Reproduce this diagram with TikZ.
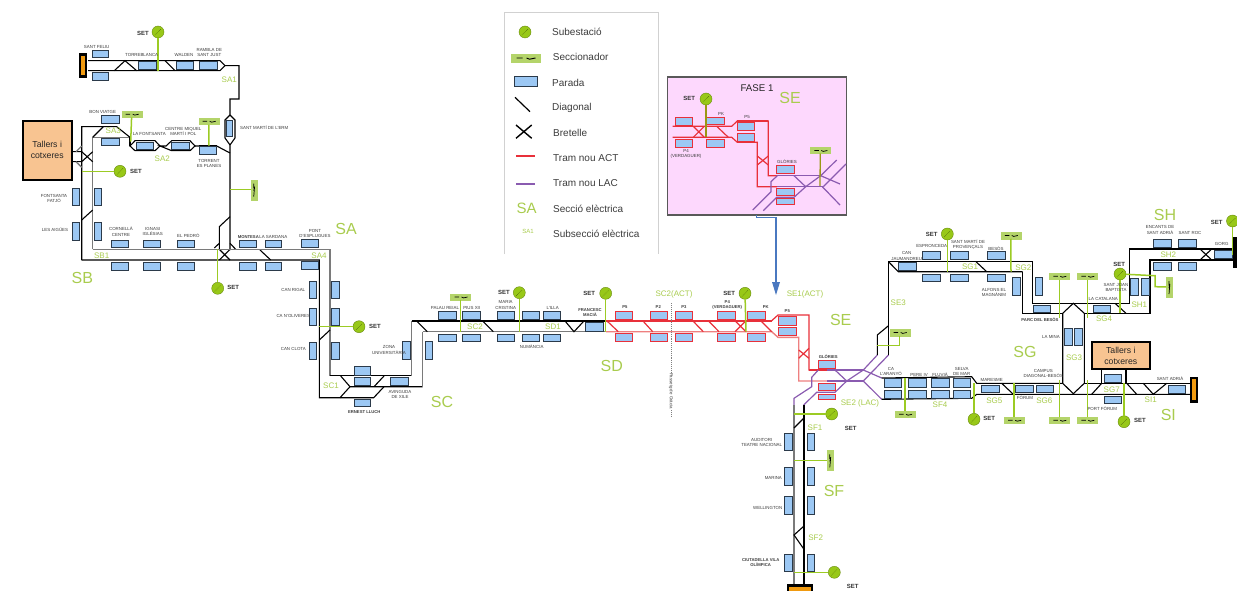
\documentclass[tikz,border=0pt]{standalone}
\usepackage{fontspec}
\setmainfont{Liberation Sans}
\definecolor{railgray}{HTML}{7A7A7A}
\definecolor{feedgreen}{HTML}{9CCB24}
\definecolor{secgreen}{HTML}{A9CC4E}
\definecolor{subgreen}{HTML}{98C818}
\definecolor{swgreen}{HTML}{B4D46A}
\definecolor{stopblue}{HTML}{9CC8F4}
\definecolor{stopedge}{HTML}{2B3A4A}
\definecolor{trred}{HTML}{E8303A}
\definecolor{trpale}{HTML}{EE8080}
\definecolor{trpurple}{HTML}{8A5BB0}
\definecolor{shopfill}{HTML}{F8C491}
\definecolor{inkgray}{HTML}{3C3C3C}
\definecolor{insetpink}{HTML}{FDD8FD}
\definecolor{arrowblue}{HTML}{4A78C0}
\definecolor{termorange}{HTML}{F09A10}
\newcount\nodeno
\newcommand{\nxt}{\global\advance\nodeno 1 \xdef\nid{n\the\nodeno}}
\tikzset{
  rail/.style={line width=1.1pt,black,line join=miter},
  grail/.style={line width=1.3pt,railgray},
  rred/.style={line width=1.2pt,trred},
  rredb/.style={line width=1.6pt,trred},
  rpale/.style={line width=1.4pt,trpale},
  rpur/.style={line width=1.2pt,trpurple},
  feed/.style={line width=1.5pt,feedgreen},
  stopbox/.style={draw=stopedge,line width=1pt,fill=stopblue,inner sep=0pt,outer sep=0pt},
  stopred/.style={draw=trred,line width=1pt,fill=stopblue,inner sep=0pt,outer sep=0pt},
  subst/.style={circle,draw=subgreen!70!black,line width=.4pt,fill=subgreen,minimum size=12pt,inner sep=0pt,outer sep=0pt},
  switchbox/.style={draw=swgreen,fill=swgreen,inner sep=0pt,outer sep=0pt,line width=.3pt},
  tiny/.style={font=\fontsize{4.4}{5.2}\selectfont,text=inkgray,align=center,inner sep=0pt},
  setl/.style={font=\bfseries\fontsize{6}{7}\selectfont,text=black!80,inner sep=0pt},
  secsmall/.style={font=\fontsize{8}{9}\selectfont,text=secgreen,inner sep=0pt},
  secbig/.style={font=\fontsize{16}{18}\selectfont,text=secgreen,inner sep=0pt},
  legendtx/.style={font=\fontsize{10}{12}\selectfont,text=inkgray,anchor=west,inner sep=0pt},
  shop/.style={draw=black,line width=2pt,fill=shopfill,inner sep=0pt,outer sep=0pt,align=center,font=\fontsize{8.7}{11}\selectfont,text=black!85}
}
% rectangle by corners
\newcommand{\Bx}[5]{\nxt\pgfmathsetmacro\bcx{(#2+#4)/2}\pgfmathsetmacro\bcy{(#3+#5)/2}\pgfmathsetmacro\bw{#4-#2}\pgfmathsetmacro\bh{#5-#3}%
  \node[#1,minimum width=\bw pt,minimum height=\bh pt] (\nid) at (\bcx,\bcy) {};}
\newcommand{\Term}[4]{\nxt\pgfmathsetmacro\bcx{(#1+#3)/2}\pgfmathsetmacro\bcy{(#2+#4)/2}\pgfmathsetmacro\bw{#3-#1}\pgfmathsetmacro\bh{#4-#2}%
  \node[draw=black,line width=2.4pt,fill=termorange,minimum width=\bw pt,minimum height=\bh pt,inner sep=0pt] (\nid) at (\bcx,\bcy) {};}
% substation: name,x,y,target x,target y
\newcommand{\Sb}[6][feed]{\node[subst] (#2) at (#3,#4) {};
  \draw[line width=.5pt,subgreen!45!black,densely dotted] ([shift={(-3,3)}]#2.center) -- ([shift={(3,-3)}]#2.center);
  \coordinate (#2-t) at (#5,#6); \draw[#1] (#2) -- (#2-t);}
% horizontal switch: name,cx,cy
\newcommand{\SwH}[3]{\node[switchbox,minimum width=20pt,minimum height=6.5pt] (#1) at (#2,#3) {};
  \draw[line width=.7pt,black] ([xshift=-6]#1.center) -- ([xshift=-1.5]#1.center) ([xshift=1]#1.center) -- ([shift={(3,.9)}]#1.center) -- ([xshift=7]#1.center);}
\newcommand{\SwV}[3]{\node[switchbox,minimum width=6pt,minimum height=20pt] (#1) at (#2,#3) {};
  \draw[line width=.7pt,black] ([yshift=6]#1.center) -- ([yshift=1.5]#1.center) ([yshift=-1]#1.center) -- ([shift={(.9,-3)}]#1.center) -- ([yshift=-7]#1.center);}
\newcommand{\Fd}[4]{\coordinate (#1-t) at (#2,#3); \draw[feed] (#1) #4 (#1-t);}
\newcommand{\Tx}[3]{\nxt\node[tiny] (\nid) at (#1,#2) {#3};}
\newcommand{\Tb}[3]{\nxt\node[tiny,font=\bfseries\fontsize{4.2}{5}\selectfont] (\nid) at (#1,#2) {#3};}
\newcommand{\SET}[2]{\nxt\node[setl] (\nid) at (#1,#2) {SET};}
\newcommand{\Ss}[3]{\nxt\node[secsmall] (\nid) at (#1,#2) {#3};}
\newcommand{\Sg}[3]{\nxt\node[secbig] (\nid) at (#1,#2) {#3};}
\begin{document}
\begin{tikzpicture}[x=1pt,y=-1pt]
\useasboundingbox (0,0) rectangle (1237,591);
\fill[white] (0,0) rectangle (1237,591);

%% ---------- legend ----------
\draw[black!18,line width=.7pt] (504,254) -- (504,12.3) -- (658,12.3) -- (658,254);
\Sb{lgs}{525}{32}{525}{32}
\node[switchbox,minimum width=29pt,minimum height=8.5pt] (lgsw) at (525.5,58) {};
\draw[line width=.9pt,black] ([xshift=-9]lgsw.center) -- ([xshift=-3]lgsw.center) ([xshift=1]lgsw.center) -- ([shift={(4,1.2)}]lgsw.center) -- ([xshift=10]lgsw.center);
\Bx{stopbox}{514.3}{77}{537.7}{86.5}
\draw[black,line width=1.2pt] (515,97.3) -- (530,111.7);
\draw[black,line width=1.4pt] (516,125) -- (531.7,138.3) (516,138.3) -- (531.7,125);
\draw[trred,line width=2.2pt] (516,155.7) -- (535,155.7);
\draw[trpurple,line width=2.2pt] (516,183.7) -- (535,183.7);
\node[legendtx] (lg1) at (552,32) {Subestació};
\node[legendtx] (lg2) at (552.7,57.3) {Seccionador};
\node[legendtx] (lg3) at (552,82.5) {Parada};
\node[legendtx] (lg4) at (552,107.7) {Diagonal};
\node[legendtx] (lg5) at (553,133) {Bretelle};
\node[legendtx] (lg6) at (553,158) {Tram nou ACT};
\node[legendtx] (lg7) at (553,183.3) {Tram nou LAC};
\node[legendtx] (lg8) at (553,208.5) {Secció elèctrica};
\node[legendtx] (lg9) at (553,233.7) {Subsecció elèctrica};
\node[secbig,font=\fontsize{15}{18}\selectfont] (lg10) at (526.7,208) {SA};
\node[secsmall,font=\fontsize{6}{7}\selectfont] (lg11) at (528,231.7) {SA1};

%% ---------- inset FASE 1 ----------
\draw[black!65,line width=1.2pt,fill=insetpink] (667.7,77) rectangle (846.7,215);
\node[font=\fontsize{9.7}{11}\selectfont,text=black!85,inner sep=0pt] (fase) at (757,88.3) {FASE 1};
\Sg{790}{98.3}{SE}
\draw[rred] (672.7,126.3) -- (731.7,126.3) -- (737.3,121) -- (768.3,121) -- (768.3,175.7) -- (777,175.7);
\draw[rredb] (737.3,121) -- (768.3,121);
\draw[rred] (672.7,137.3) -- (731.7,137.3) -- (737.3,142.3) -- (757.3,142.3) -- (757.3,186.7) -- (777,186.7);
\draw[rred] (693.3,126.3) -- (704.3,137.3) (693.3,137.3) -- (704.3,126.3) (716.7,126.3) -- (728.3,137.3);
\draw[rred] (757.3,165) -- (768.3,156) (757.3,156) -- (768.3,165);
\draw[rpur] (777,175.7) -- (820.7,175.7) (777,186.7) -- (823.3,186.7);
\draw[rpur] (752.7,210) -- (771,191.7) -- (771,181.7) -- (777.3,175.7);
\draw[rpur] (763.3,210.7) -- (776.7,197.3) -- (794,197.3) -- (805.7,186.7);
\draw[rpur] (794,175.7) -- (805.7,186.7) -- (820.7,175.7) -- (836.7,160);
\draw[rpur] (823.3,186.7) -- (846,164);
\draw[rpur] (820.7,175.7) -- (840,184) (822.3,186.7) -- (840,205);
\Bx{stopred}{675}{118}{692.3}{125.7}
\Bx{stopred}{706.7}{117.3}{724}{125}
\Bx{stopred}{675}{139.7}{692.3}{147.7}
\Bx{stopred}{706.7}{139.7}{724}{147.7}
\Bx{stopred}{737.3}{122.7}{754.3}{130.7}
\Bx{stopred}{737.3}{133.3}{754.3}{141.3}
\Bx{stopred}{776.7}{166}{794}{173.3}
\Bx{stopred}{776.7}{188.3}{794}{195.7}
\Bx{stopred}{776.7}{198.3}{794}{204}
\Sb[line width=1.3pt,olive!70!feedgreen]{ins}{706}{99}{706}{137.3}
\SET{689.3}{98.7}
\node[switchbox,minimum width=20pt,minimum height=6pt] (insw) at (820.3,150.5) {};
\draw[line width=.7pt,black] ([xshift=-6]insw.center) -- ([xshift=-1.5]insw.center) ([xshift=1]insw.center) -- ([shift={(3,.9)}]insw.center) -- ([xshift=7]insw.center);
\coordinate (insw-t) at (820,186); \draw[line width=1.3pt,olive!70!feedgreen] (insw) -- (insw-t);
\Tx{721}{114}{PK}
\Tx{747}{116.7}{P5}
\Tx{686}{154}{P4\\(VERDAGUER)}
\Tx{787}{162}{GLÒRIES}
% blue arrow
\coordinate (arA) at (756.7,215); \coordinate (arB) at (776,294);
\draw[arrowblue,line width=1.2pt] (arA) -- (756.7,217.3) -- (776,217.3) -- (776,283);
\fill[arrowblue] (772,282) -- (780,282) -- (776,295) -- cycle;

%% ---------- rails: SA / SB ----------
\draw[rail] (88,60.7) -- (220,60.7) -- (225,65.7) -- (239,65.7) -- (239,99) -- (230,99) -- (230,115) -- (235,120) -- (235,138) -- (230,145) -- (230,250);
\draw[rail] (88,70.7) -- (220,70.7) -- (225,65.7);
\draw[rail] (230,115) -- (225,120) -- (225,138) -- (230,145);
\draw[rail] (114.3,70.7) -- (125,60.7) -- (136.7,70.7) (165,60.7) -- (175,70.7);
\draw[rail] (81.7,260) -- (81.7,126.7) -- (116.7,126.7) -- (130,137.3);
\draw[grail] (92.7,249.3) -- (92.7,137.3) -- (129.3,137.3);
\draw[rail] (92.7,137.3) -- (103.3,126.7);
\draw[rail] (130,137.3) -- (130,146);
\draw[rail] (72.7,151.7) -- (81.7,151.7) -- (92.7,161.7) (72.7,161.7) -- (81.7,161.7) -- (92.7,151.7);
\draw[grail] (76,151.7) -- (81.7,146) (76,161.7) -- (81.7,167.3);
\draw[rail] (81.7,220) -- (92.7,210);
\draw[rail] (130,146) -- (135,140.7) -- (155,140.7) -- (160,146) -- (155,150.7) -- (135,150.7) -- cycle;
\draw[rail] (160,146) -- (166,146) -- (171.7,140.7) -- (190,140.7) -- (195,146) -- (190,150.7) -- (171.7,150.7) -- cycle;
\draw[rail] (195,146) -- (216.7,146) -- (230,153);
\draw[line width=1.6pt,black] (199,146) -- (216.7,146);
\draw[rail] (230,216.7) -- (219.3,226.7) -- (219.3,249.3);
\draw[rail] (230,243.3) -- (235.7,249.3);
\draw[rail] (219.3,249.3) -- (230,260) (219.3,260) -- (230,249.3);
\draw[rail] (260,250) -- (270.7,260);
\draw[rail] (214.3,248) -- (219.3,243.3);
\draw[grail] (92.7,249.3) -- (330,249.3) -- (330,375.7);
\draw[rail] (81.7,260) -- (319.3,260) -- (319.3,397.7) -- (340,397.7) -- (350,386.7) -- (422.7,386.7);
\draw[grail] (422.7,386.7) -- (422.7,331.7);
\draw[rail] (319.3,340) -- (330,330);
%% SC
\draw[rail] (330,375.7) -- (411.7,375.7);
\draw[grail] (411.7,375.7) -- (411.7,321);
\draw[rail] (411.7,321) -- (606,321);
\draw[grail] (422.7,331.7) -- (606,331.7);
\draw[rail] (340.7,376) -- (350,386.7) (340,397.7) -- (373.7,397.7) -- (384,386.7) (374,386.7) -- (384,376);
\draw[rail] (417.3,321.7) -- (427.3,331.7) (483.3,321.7) -- (493.3,331.7);
\draw[rail] (565,321) -- (574,331.7) -- (583.3,321.7);
%% SE red
\draw[rpale] (606,331.7) -- (771.7,331.7) -- (778,337.3) -- (798.7,337.3) -- (798.7,381) -- (827,381);
\draw[rredb] (606,320.7) -- (771.7,320.7);
\draw[rred] (771.7,320.7) -- (778,315) -- (809,315) -- (809,370) -- (827,370);
\draw[rredb] (809,370) -- (827,370);
\draw[rred] (606.7,320.7) -- (618.3,331.7) (642.7,320.7) -- (652.7,331.7) (692.7,320.7) -- (703.3,331.7) (708.3,320.7) -- (719,331.7) (735,331.7) -- (746,320.7) (735,320.7) -- (746,331.7) (760.7,320.7) -- (771.7,331.7);
\draw[rred] (798.7,358.3) -- (809,348.3) (798.7,350) -- (809,358.3);
%% SE purple
\draw[rpur] (827,370) -- (863.3,370) (827,381) -- (863.3,381);
\draw[rpur] (794,405) -- (794,398.3) -- (811.7,386.7) -- (811.7,377.3) -- (818.3,370);
\draw[rpur] (803.7,405) -- (816.7,392.3) -- (835,392.3) -- (846.7,381);
\draw[rpur] (835,370) -- (846.7,381) -- (863.3,370) -- (877.3,355);
\draw[rpur] (863.3,381) -- (888.5,355);
\draw[rpur] (863.3,370) -- (881.7,378);
\draw[rpur] (863.3,381) -- (881.7,399.3);
%% SG upper
\draw[rail] (877.3,355) -- (877.3,335) -- (888.5,325.7);
\draw[rail] (888.5,355) -- (888.5,261.7) -- (1032.7,261.7) -- (1032.7,303.3) -- (1129.3,303.3) -- (1129.3,249) -- (1233,249);
\draw[rail] (1022.7,271.7) -- (1022.7,313.3) -- (1062.7,313.3);
\draw[rail] (888.5,261.7) -- (898.3,271.7) -- (1022.7,271.7);
\draw[rail] (976,261.7) -- (986.7,271.7);
\draw[rail] (1084.3,313.3) -- (1150,313.3) -- (1150,260) -- (1233,260);
\draw[rail] (1200,249) -- (1211.7,260) (1200,260) -- (1211.7,249);
\draw[rail] (1062.7,313.3) -- (1073.3,303.3) -- (1084.3,313.3);
\draw[rail] (1115,303.3) -- (1126,313.3);
%% SG vertical
\draw[rail] (1062.7,313.3) -- (1062.7,383.3) -- (1073.3,393.7) -- (1084.3,383.3) -- (1084.3,313.3);
%% SG lower
\draw[rail] (881.7,378) -- (971.7,376.7) -- (976.7,383.3) -- (1062.7,383.3);
\draw[rail] (881.7,399.3) -- (971.7,398.3) -- (976.7,394.3) -- (1190,394.3);
\draw[rail] (1084.3,383.3) -- (1190,383.3);
\draw[rail] (1001.7,383.3) -- (1013.3,394.3) (1091.7,394.3) -- (1101.7,383.3) (1126.7,383.3) -- (1136.7,394.3) (1143.3,383.3) -- (1153.3,394.3) -- (1166.7,383.3);
\draw[rail] (1101.7,370) -- (1101.7,383.3) (1126,370) -- (1126,383.3);
%% SF
\draw[grail] (794,405) -- (794,584);
\draw[rail] (804,405) -- (804,584);
\draw[rail] (794,428) -- (804,418) (804,526) -- (794,535) -- (804,549.3);

%% ---------- terminals ----------
\Term{80}{54.5}{86}{76.5}
\Term{1191}{378}{1197}{401.5}
\draw[black,fill=black] (1233,237) rectangle (1237,267);
\draw[black,line width=2.4pt,fill=termorange] (788,585.5) rectangle (812,593);

%% ---------- shops ----------
\node[shop,minimum width=49pt,minimum height=59pt] (shopA) at (47.2,150.3) {Tallers i\\cotxeres};
\node[shop,minimum width=58pt,minimum height=27.5pt] (shopB) at (1120.8,355.5) {Tallers i\\cotxeres};

%% ---------- stops ----------
\foreach \a/\b/\c/\d in {92/51/108/58, 92/73/108/81, 138/62/156/70, 176/62/193/70, 199/62/217/70,
 226.7/121/232.7/137,
 101.7/116/119.3/124, 101.7/138.3/119.3/146,
 136/142.3/153.3/149.3, 171.7/142.3/189/149.3, 199/146.7/216.7/154.3,
 72/188.3/79.3/205.7, 94.3/188.3/101.7/205.7, 72/222.7/79.3/240, 94.3/222.7/101.7/240,
 111.7/240/128.3/247.3, 143.3/240/160.7/247.3, 177.3/240/194.7/247.3, 239.3/240/256.7/247.3, 265/240/281.7/247.3, 301/239.3/318.3/247.3,
 111.7/262.3/128.3/270, 143.3/262.3/160.7/270, 177.3/262.3/194.7/270, 239.3/262.3/256.7/270, 265/262.3/281.7/270, 301/261/318.3/269,
 309.3/281/316.7/298.3, 331.7/281/339.3/298.3, 309.3/308.3/316.7/325.7, 331.7/308.3/339.3/325.7, 309.3/342.3/316.7/359.3, 331.7/342.3/339.3/359.3,
 354/366.7/370.7/375, 354/377.7/370.7/385.7, 354/399.3/370.7/406.7, 390.7/377.7/408/385.7,
 402.7/341.7/410/359, 425/341.7/432.3/359,
 438.3/311.7/456/319.3, 462.7/311.7/480/319.3, 497.7/311.7/514.3/319.3, 522.3/311.7/539.3/319.3, 543.3/311.7/560.7/319.3,
 438.3/334/456/341.7, 462.7/334/480/341.7, 497.7/334/514.3/341.7, 522.3/334/539.3/341.7, 543.3/334/560.7/341.7,
 585/322/603/331,
 898.3/262.3/916/270, 922.7/251.7/940/259.3, 950.7/251.7/968.3/259.3, 987.3/251.7/1005/259.3, 922.7/274.3/940/281.7, 950.7/274.3/968.3/281.7, 987.3/274.3/1005/281.7,
 1012.3/277.7/1020/295.7, 1035/277.7/1042.7/295.7, 1033.3/305/1050/312.7, 1093.3/305/1110.7/312.7,
 1130.7/278.3/1138/295.7, 1141.7/278.3/1149/295.7, 1153.3/239.3/1171/247.3, 1178.3/239.3/1196/247.3, 1153.3/262.3/1171/270, 1178.3/262.3/1196/270, 1214/250/1232/258,
 1064/328.3/1072/345.7, 1074.3/328.3/1082.7/345.7,
 884/378/901.7/387, 908.3/378/926/387, 931.7/378/949/387, 953.3/378/970.7/387, 884/390/901.7/398, 908.3/390/926/398, 931.7/390/949/398, 953.3/390/970.7/398,
 981.7/385/999.3/392.7, 1015.7/385/1033.3/392.7, 1036/385/1053.3/392.7, 1104.3/374/1121.7/382, 1104.3/396/1121.7/403.7, 1168.3/385/1185/393.3,
 784.3/433/792.3/450.7, 807.3/433/814.7/450.7, 784.3/467.7/792.3/485, 807.3/467.7/814.7/485, 784.3/496.7/792.3/514, 807.3/496.7/814.7/514, 784.3/554/792.3/571, 807.3/554/814.7/571}
{\Bx{stopbox}{\a}{\b}{\c}{\d}}
\foreach \a/\b/\c/\d in {615/311/632.3/319, 650.3/311/667.7/319, 675.3/311/692/319, 717.3/311/735/319, 747.7/311/765.7/319,
 615/333.3/632.3/341.3, 650.3/333.3/667.7/341.3, 675.3/333.3/692/341.3, 717.3/333.3/735/341.3, 747.7/333.3/765.7/341.3,
 778.3/316.7/796/325, 778.3/327.3/796/335.7, 818.3/360.7/835.7/368, 818.3/383.3/835.7/390.7, 818.3/394/835.7/399.3}
{\Bx{stopred}{\a}{\b}{\c}{\d}}

%% dotted line
\coordinate (dotA) at (671,303.3); \coordinate (dotB) at (671,416.7);
\draw[black!50,line width=.9pt,densely dotted] (dotA) -- (671,372) (671,410) -- (dotB);
\node[tiny,rotate=-90] (limit) at (671,391) {Passeig de Gràcia};

%% ---------- switches with feeds ----------
\SwH{sw1}{131.7}{114.2} \Fd{sw1}{130.7}{141.7}{--}
\SwH{sw2}{208.7}{121.3} \Fd{sw2}{209}{145.7}{--}
\SwV{sw3}{253.7}{189.7} \Fd{sw3}{230}{189.7}{--}
\SwH{sw4}{460.5}{297} \Fd{sw4}{460.5}{331.7}{--}
\SwH{sw5}{899.7}{332.5} \coordinate (sw5-t) at (877.3,345.7); \draw[feed] (sw5) -- (899.7,345.7) -- (sw5-t);
\SwH{sw6}{1010.8}{235.5} \Fd{sw6}{1011}{271.7}{--}
\SwH{sw7}{905}{414.3} \Fd{sw7}{905}{378}{--}
\SwH{sw8}{1014.2}{420.3} \Fd{sw8}{1014.2}{383.3}{--}
\SwH{sw9}{1059.3}{420.3} \Fd{sw9}{1059.3}{380}{--}
\SwH{sw10}{1087.3}{420.3} \Fd{sw10}{1087.3}{380}{--}
\SwH{sw11}{1059.3}{276.3} \Fd{sw11}{1059.3}{318}{--}
\SwH{sw12}{1087.3}{276.3} \Fd{sw12}{1087.3}{318}{--}
\SwV{sw13}{1169}{287} 
\SwV{sw14}{829.8}{460.3} \Fd{sw14}{794}{460.3}{--}

%% ---------- substations ----------
\Sb{s1}{158}{32}{158}{70.7}   \SET{143}{33}
\Sb{s2}{120}{171.3}{81.7}{171.3} \SET{136}{171.3}
\Sb{s3}{217.7}{288.3}{217.7}{249.3} \SET{233.3}{287.3}
\Sb{s4}{359}{326.7}{319.3}{326.7} \SET{375}{326.7}
\Sb{s5}{519.3}{292.7}{519.3}{331.7} \SET{504}{292.7}
\Sb{s6}{605.7}{293.3}{605.7}{331.7} \SET{589.3}{293.3}
\Sb{s7}{745}{293.3}{746}{331.7} \SET{729.3}{293.3}
\Sb{s8}{831.7}{414}{794}{414} \SET{850.7}{428}
\Sb{s9}{834.3}{572.3}{794}{572.3} \SET{852.7}{586.7}
\Sb{s10}{947.3}{234}{947.3}{272} \SET{931.7}{234.3}
\Sb{s11}{974}{419.3}{974}{383} \SET{989.3}{418.3}
\Sb{s12}{1124}{421.7}{1124}{383.3} \SET{1140}{420.7}
\Sb{s13}{1120}{274}{1120}{313.3} \SET{1119.3}{264}
\coordinate (sw13-t) at (1155,286.7);
\draw[feed] (s13) -- (1155,275.7) -- (sw13-t) -- (sw13);
\Sb{s14}{1232.5}{221}{1232.5}{255} \SET{1216.7}{222.3}

%% ---------- section labels ----------
\Ss{229.3}{79.3}{SA1} \Ss{113.3}{131}{SA3} \Ss{162.3}{158.3}{SA2} \Ss{101.7}{255.7}{SB1} \Ss{319}{255.7}{SA4}
\Sg{346}{229}{SA} \Sg{82.3}{277.7}{SB} \Sg{442}{401.7}{SC} \Sg{611.7}{365.7}{SD} \Sg{840.7}{320}{SE} \Sg{834}{491}{SF}
\Sg{1025}{351.7}{SG} \Sg{1165}{215}{SH} \Sg{1168.3}{415}{SI}
\Ss{331}{386}{SC1} \Ss{475}{326.7}{SC2} \Ss{553}{326.7}{SD1}
\Ss{674}{294}{SC2(ACT)} \Ss{805}{294}{SE1(ACT)} \Ss{860}{403.3}{SE2 (LAC)}
\Ss{815}{427.7}{SF1} \Ss{815.7}{538}{SF2} \Ss{898.3}{302.7}{SE3} \Ss{940}{405}{SF4}
\Ss{970}{266.7}{SG1} \Ss{1023.3}{267.3}{SG2} \Ss{1074}{357.7}{SG3} \Ss{1104}{319}{SG4}
\Ss{994.3}{400.7}{SG5} \Ss{1044.3}{400.7}{SG6} \Ss{1111.7}{390}{SG7} \Ss{1150.7}{400}{SI1}
\Ss{1139.3}{305}{SH1} \Ss{1168.3}{255}{SH2}

%% ---------- stop names ----------
\Tx{96.7}{46.7}{SANT FELIU} \Tx{141.7}{55}{TORREBLANCA} \Tx{184}{55}{WALDEN} \Tx{209.3}{52.7}{RAMBLA DE\\SANT JUST}
\Tx{102.7}{111.7}{BON VIATGE} \Tx{149.3}{134.3}{LA FONTSANTA} \Tx{183.3}{131.7}{CENTRE MIQUEL\\MARTÍ I POL}
\Tx{209}{163.3}{TORRENT\\ES PLANES} \nxt\node[tiny,anchor=west] (\nid) at (240,127.7) {SANT MARTÍ DE L'ERM};
\Tx{54}{198.3}{FONTSANTA\\FATJÓ} \Tx{55}{230}{LES AIGÜES}
\Tx{121}{231.7}{CORNELLÀ\\CENTRE} \Tx{152.7}{231.7}{IGNASI\\IGLÉSIAS} \Tx{188.3}{235.7}{EL PEDRÓ}
\Tb{248.3}{236.7}{MONTESA} \Tx{273.3}{236.7}{LA SARDANA} \Tx{315}{233.3}{PONT\\D'ESPLUGUES}
\Tx{293.3}{290}{CAN RIGAL} \Tx{293.3}{316}{CA N'OLIVERES} \Tx{293.3}{349.3}{CAN CLOTA}
\Tx{389}{350}{ZONA\\UNIVERSITÀRIA} \Tx{400}{394.3}{AVINGUDA\\DE XILE} \Tb{364.3}{411.7}{ERNEST LLUCH}
\Tx{445}{308.3}{PALAU REIAL} \Tx{471.7}{308.3}{PIUS XII} \Tx{505.7}{305}{MARIA\\CRISTINA} \Tx{552.7}{308.3}{L'ILLA}
\Tx{531.7}{346.7}{NUMÀNCIA} \Tb{590}{312.7}{FRANCESC\\MACIÀ}
\Tb{625}{306.7}{P5} \Tb{658.3}{306.7}{P2} \Tb{684}{306.7}{P3} \Tb{727.3}{304.7}{P4\\(VERDAGUER)} \Tb{765.7}{306.7}{PK} \Tb{787.3}{310.7}{P5} \Tb{828.3}{356.7}{GLÒRIES}
\Tx{761.7}{442.7}{AUDITORI\\TEATRE NACIONAL} \Tx{773.3}{478}{MARINA} \Tx{767.7}{508.3}{WELLINGTON}
\Tb{760.7}{562.3}{CIUTADELLA VILA\\OLÍMPICA}
\Tx{906.7}{256}{CAN\\JAUMANDREU} \Tx{931.7}{246}{ESPRONCEDA} \Tx{968}{244.3}{SANT MARTÍ DE\\PROVENÇALS} \Tx{996}{248.3}{BESÒS}
\Tx{994}{292.7}{ALFONS EL\\MAGNÀNIM} \Tb{1040}{319.3}{PARC DEL BESÒS} \Tx{1103.3}{299}{LA CATALANA}
\Tx{1116}{287.3}{SANT JOAN\\BAPTISTA} \Tx{1051}{337.3}{LA MINA} \Tx{1043.3}{373.3}{CAMPUS\\DIAGONAL-BESÒS}
\Tx{991.7}{380.3}{MARESME} \Tx{1025}{397.7}{FÒRUM} \Tx{1102.3}{408.3}{PORT FÒRUM} \Tx{1170}{378.3}{SANT ADRIÀ}
\Tx{891}{371.7}{CA\\L'ARANYÓ} \Tx{919}{375}{PERE IV} \Tx{940}{375}{FLUVIÀ} \Tx{961.7}{371.7}{SELVA\\DE MAR}
\Tx{1160}{230}{ENCANTS DE\\SANT ADRIÀ} \Tx{1190}{233.3}{SANT ROC} \Tx{1221.7}{244}{GORG}
\end{tikzpicture}
\end{document}
